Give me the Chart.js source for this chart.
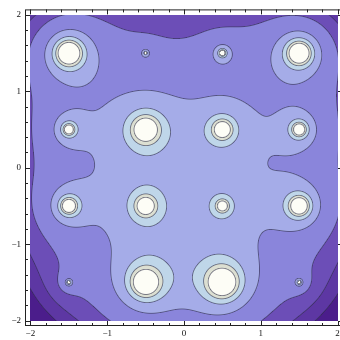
<!DOCTYPE html>
<html>
<head>
<meta charset="utf-8">
<script src="https://cdn.jsdelivr.net/npm/chart.js@4.4.0/dist/chart.umd.min.js"></script>
<style>
html, body { margin: 0; padding: 0; background: #fff; overflow: hidden; }
canvas { display: block; }
</style>
</head>
<body>
<canvas id="chart" width="346" height="340" style="width:346px;height:340px"></canvas>
<script>
// point sources of the field (x, y, strength)
const srcX = [-1.5, -0.5, 0.5, 1.5, -1.5, -0.5, 0.5, 1.5, -1.5, -0.5, 0.5, 1.5, -1.5, -0.5, 0.5, 1.5];
const srcY = [1.5, 1.5, 1.5, 1.5, 0.5, 0.5, 0.5, 0.5, -0.5, -0.5, -0.5, -0.5, -1.5, -1.5, -1.5, -1.5];
const srcQ = [0.75, 0.05, 0.14, 0.68, 0.24, 0.62, 0.40, 0.31, 0.38, 0.40, 0.22, 0.49, 0.07, 0.74, 0.83, 0.07];
// contour values and the fill of each band (lowest first)
const contourLevels = [2.72, 3.0, 3.5, 4.6, 5.7, 6.7, 7.7];
const bandColors = ['#4b1d8b', '#5d37a3', '#6c4eb7', '#8a85db', '#a5ace8', '#bfd6e9', '#dcdfd2', '#fdfdf6'];
const majorTicks = [-2, -1, 0, 1, 2];
const plotMin = -2, plotMax = 2;

function field(x, y) {
    let s = 0;
    for (let i = 0; i < srcQ.length; i++) {
        const dx = x - srcX[i], dy = y - srcY[i];
        s += srcQ[i] / Math.sqrt(dx * dx + dy * dy);
    }
    return s;
}

function hexRgb(h) {
    return [parseInt(h.slice(1, 3), 16), parseInt(h.slice(3, 5), 16), parseInt(h.slice(5, 7), 16)];
}

const contourFill = {
    id: 'contourFill',
    beforeDatasetsDraw(chart) {
        const xs = chart.scales.x, ys = chart.scales.y, ctx = chart.ctx;
        const left = Math.round(xs.getPixelForValue(plotMin));
        const right = Math.round(xs.getPixelForValue(plotMax));
        const top = Math.round(ys.getPixelForValue(plotMax));
        const bottom = Math.round(ys.getPixelForValue(plotMin));
        const w = right - left, h = bottom - top;
        const gw = w + 2, gh = h + 2;
        const F = new Float64Array(gw * gh);
        for (let j = 0; j < gh; j++) {
            const yv = ys.getValueForPixel(top + j - 0.5);
            for (let i = 0; i < gw; i++) {
                F[j * gw + i] = field(xs.getValueForPixel(left + i - 0.5), yv);
            }
        }
        const cols = bandColors.map(hexRgb);
        const line = [45, 45, 70];
        const topLevel = contourLevels[contourLevels.length - 1];
        const off = document.createElement('canvas');
        off.width = w; off.height = h;
        const octx = off.getContext('2d');
        const img = octx.createImageData(w, h);
        for (let j = 0; j < h; j++) {
            for (let i = 0; i < w; i++) {
                const k = (j + 1) * gw + (i + 1);
                const f = F[k];
                let band = 0;
                while (band < contourLevels.length && f > contourLevels[band]) band++;
                let a = 0;
                if (f < topLevel + 1) {
                    const gx = (F[k + 1] - F[k - 1]) / 2, gy = (F[k + gw] - F[k - gw]) / 2;
                    const g = Math.sqrt(gx * gx + gy * gy) || 1e-9;
                    let dist = Infinity;
                    contourLevels.forEach(L => { dist = Math.min(dist, Math.abs(f - L) / g); });
                    a = 0.6 * Math.max(0, 1 - dist / 0.9);
                }
                const c = cols[band];
                const p = (j * w + i) * 4;
                img.data[p] = c[0] * (1 - a) + line[0] * a;
                img.data[p + 1] = c[1] * (1 - a) + line[1] * a;
                img.data[p + 2] = c[2] * (1 - a) + line[2] * a;
                img.data[p + 3] = 255;
            }
        }
        octx.putImageData(img, 0, 0);
        ctx.drawImage(off, left, top);
    }
};

const frameTicks = {
    id: 'frameTicks',
    afterDraw(chart) {
        const { ctx, chartArea: a, scales: { x, y } } = chart;
        ctx.save();
        ctx.strokeStyle = '#222';
        ctx.lineWidth = 1;
        ctx.strokeRect(a.left + 0.5, a.top + 0.5, a.right - a.left - 1, a.bottom - a.top - 1);
        ctx.beginPath();
        for (let k = -10; k <= 10; k++) {
            const v = k / 5;
            const len = k % 5 === 0 ? 5 : 3;
            const px = Math.round(x.getPixelForValue(v)) + 0.5;
            ctx.moveTo(px, a.bottom); ctx.lineTo(px, a.bottom - len);
            ctx.moveTo(px, a.top); ctx.lineTo(px, a.top + len);
            const py = Math.round(y.getPixelForValue(v)) + 0.5;
            ctx.moveTo(a.left, py); ctx.lineTo(a.left + len, py);
            ctx.moveTo(a.right, py); ctx.lineTo(a.right - len, py);
        }
        ctx.stroke();
        ctx.restore();
    }
};

const tickFont = { family: "'Liberation Serif', 'Times New Roman', serif", size: 9 };
const fmt = v => (v < 0 ? '\u2212' + Math.abs(v) : String(v));

new Chart(document.getElementById('chart'), {
    type: 'scatter',
    data: {
        datasets: [{
            data: srcX.map((x, i) => ({ x: x, y: srcY[i] })),
            pointRadius: 0
        }]
    },
    options: {
        responsive: false,
        animation: false,
        layout: { padding: { top: 4, right: 3, left: 0, bottom: 0 } },
        plugins: { legend: { display: false }, tooltip: { enabled: false } },
        scales: {
            x: {
                type: 'linear', min: -2.07, max: 2.07,
                grid: { display: false, drawTicks: false },
                border: { display: false },
                afterBuildTicks: s => { s.ticks = majorTicks.map(v => ({ value: v })); },
                afterFit: s => { s.height = 14; },
                ticks: { callback: fmt, font: tickFont, color: '#111', padding: 2, maxRotation: 0, autoSkip: false }
            },
            y: {
                type: 'linear', min: -2.07, max: 2.07,
                grid: { display: false, drawTicks: false },
                border: { display: false },
                afterBuildTicks: s => { s.ticks = majorTicks.map(v => ({ value: v })); },
                afterFit: s => { s.width = 25; },
                ticks: { callback: fmt, font: tickFont, color: '#111', padding: 4, autoSkip: false }
            }
        }
    },
    plugins: [contourFill, frameTicks]
});
</script>
</body>
</html>
